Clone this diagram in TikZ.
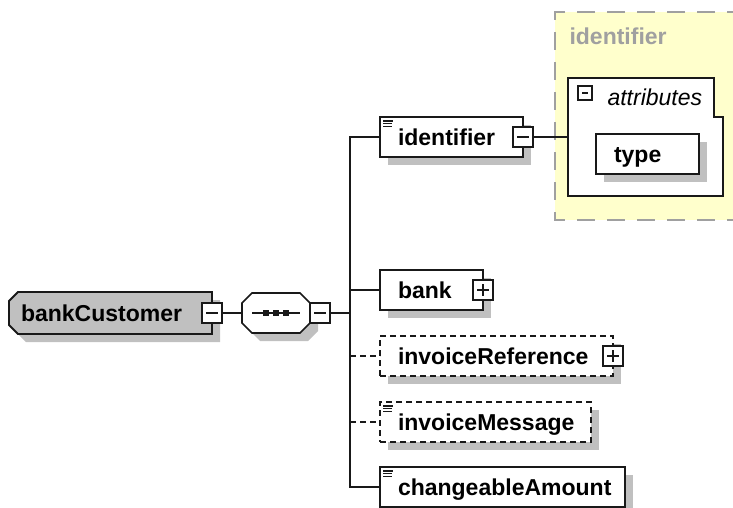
\documentclass[tikz,border=0pt]{standalone}
\usepackage{fontspec}
\setmainfont{Liberation Sans}
\usetikzlibrary{positioning,backgrounds}
\definecolor{shadowgray}{RGB}{192,192,192}
\definecolor{rootfill}{RGB}{192,192,192}
\definecolor{groupfill}{RGB}{255,255,204}
\definecolor{groupline}{RGB}{160,160,160}
\definecolor{boxline}{RGB}{25,25,25}

\begin{document}
\begin{tikzpicture}[
    x=1pt, y=-1pt,
    font=\fontsize{23}{27}\selectfont\bfseries,
    shadowed/.style={preaction={fill=shadowgray, transform canvas={shift={(8pt,-8pt)}}}},
    outline/.style={draw=boxline, line width=1.8pt},
    elem/.style={rectangle, outline, fill=white, shadowed, minimum height=40pt, inner xsep=18pt, inner ysep=0pt, outer sep=0pt, text height=16pt, text depth=0pt, align=left, anchor=west},
    optional/.style={dash pattern=on 6pt off 4pt},
    simple/.style={path picture={
        \draw[solid, line width=1.2pt, boxline] ([xshift=3pt,yshift=-4pt]path picture bounding box.north west) -- ++(10,0)
            ([xshift=3pt,yshift=-6.8pt]path picture bounding box.north west) -- ++(9,0)
            ([xshift=3pt,yshift=-9.6pt]path picture bounding box.north west) -- ++(9,0);}},
    rootbox/.style={rectangle, minimum width=203pt, minimum height=42pt, inner xsep=12pt, inner ysep=0pt, outer sep=0pt, text height=16pt, text depth=0pt, text width=179pt, align=left, anchor=west},
    seqbox/.style={rectangle, minimum width=68pt, minimum height=40pt, inner sep=0pt, outer sep=0pt},
    toggle/.style={rectangle, draw=boxline, line width=1.5pt, fill=white, minimum size=20pt, inner sep=0pt, outer sep=0pt},
    collapse/.style={toggle, path picture={
        \draw[solid, line width=1.5pt, boxline] ([xshift=4pt]path picture bounding box.west) -- ([xshift=-4pt]path picture bounding box.east);}},
    expand/.style={toggle, path picture={
        \draw[solid, line width=1.5pt, boxline] ([xshift=4pt]path picture bounding box.west) -- ([xshift=-4pt]path picture bounding box.east)
            ([yshift=-4pt]path picture bounding box.north) -- ([yshift=4pt]path picture bounding box.south);}},
    group/.style={rectangle, fill=groupfill, outer sep=0pt},
    groupborder/.style={draw=groupline, line width=1.8pt, dash pattern=on 18pt off 12pt},
    link/.style={draw=boxline, line width=1.6pt}
]
\useasboundingbox (0,0) rectangle (733,508);

% Root element
\node[rootbox] (bc) at (9,313) {bankCustomer};
\node[collapse] (bc-tog) at (bc.east) {};

% Sequence
\node[seqbox, right=20pt of bc-tog] (seq) {};
\node[collapse, anchor=west] (seq-tog) at (seq.east) {};
\coordinate[right=20pt of seq-tog] (bus);

\begin{pgfonlayer}{background}
\filldraw[outline, fill=rootfill, shadowed] ([xshift=9pt]bc.north west) -- (bc.north east) -- (bc.south east)
    -- ([xshift=9pt]bc.south west) -- ([yshift=9pt]bc.south west) -- ([yshift=-9pt]bc.north west) -- cycle;
\filldraw[outline, line width=1.6pt, fill=white, shadowed] ([xshift=10pt]seq.north west) -- ([xshift=-10pt]seq.north east)
    -- ([yshift=-10pt]seq.north east) -- ([yshift=10pt]seq.south east) -- ([xshift=-10pt]seq.south east)
    -- ([xshift=10pt]seq.south west) -- ([yshift=10pt]seq.south west) -- ([yshift=-10pt]seq.north west) -- cycle;
\draw[outline, line width=1.5pt] ([xshift=-24pt]seq.center) -- ([xshift=24pt]seq.center);
\foreach \dx in {-10,0,10}
    \fill[boxline] ([xshift=\dx pt]seq.center) +(-3,-3) rectangle +(3,3);
\end{pgfonlayer}

% Children
\node[elem, simple, text width=107pt] (id) at (380,137) {identifier};
\node[collapse] (id-tog) at (id.east) {};
\node[elem, text width=67pt] (bank) at (380,290) {bank};
\node[expand] (bank-tog) at (bank.east) {};
\node[elem, optional, text width=197pt] (iref) at (380,356) {invoiceReference};
\node[expand] (iref-tog) at (iref.east) {};
\node[elem, optional, simple, text width=175pt] (imsg) at (380,422) {invoiceMessage};
\node[elem, simple, text width=209pt] (chg) at (380,487) {changeableAmount};

% Type of identifier (runs off the right edge)
\node[group, minimum width=190pt, minimum height=208pt, anchor=north west] (grp) at (555,12) {};
\draw[groupborder] (grp.north east) -- (grp.north west) -- (grp.south west) -- (grp.south east);
\node[anchor=base west, text=groupline] (grp-title) at (566,45) {identifier};
\node[rectangle, minimum width=155pt, minimum height=118pt, inner sep=0pt, outer sep=0pt, anchor=north west] (attrs) at (568,78) {};
\filldraw[outline, fill=white] (attrs.north west) -- ([xshift=-9pt]attrs.north east) -- ++(0,39) -- ++(9,0)
    -- (attrs.south east) -- (attrs.south west) -- cycle;
\node[collapse, minimum size=14pt, line width=1.3pt] (attrs-tog) at (585,93) {};
\node[anchor=base west, font=\fontsize{23}{27}\selectfont\itshape] (attrs-lbl) at (604,106) {attributes};
\node[elem, text width=67pt] (type) at (596,154) {type};

% Links
\draw[link] (bc-tog) -- (seq);
\draw[link] (seq-tog) -- (bus);
\draw[link] (bus) |- (id);
\draw[link] (bus) |- (chg);
\draw[link] (bus |- bank.west) -- (bank);
\draw[link, optional] (bus |- iref.west) -- (iref);
\draw[link, optional] (bus |- imsg.west) -- (imsg);
\draw[link] (id-tog) -- (attrs);

\end{tikzpicture}
\end{document}
